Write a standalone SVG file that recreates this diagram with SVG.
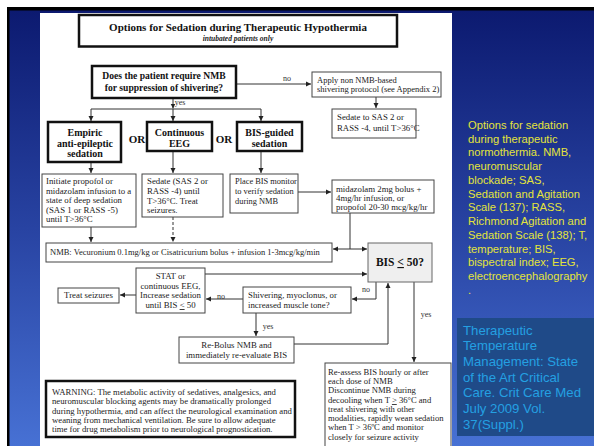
<svg xmlns="http://www.w3.org/2000/svg" width="594" height="446" viewBox="0 0 594 446">
<defs>
<linearGradient id="bg" x1="0" y1="0" x2="0" y2="1">
<stop offset="0" stop-color="#0c1a70"/>
<stop offset="0.5" stop-color="#2843a2"/>
<stop offset="1" stop-color="#4771d4"/>
</linearGradient>
<marker id="ah" markerWidth="6" markerHeight="6" refX="5" refY="3" orient="auto-start-reverse" markerUnits="userSpaceOnUse">
<path d="M0,0.5 L5,3 L0,5.5 z" fill="#222"/>
</marker>
</defs>
<style>
.b{fill:#fff;stroke:#444;stroke-width:1}
.tk{fill:#fff;stroke:#111;stroke-width:2.5}
.t{font-family:"Liberation Serif",serif;font-size:8.8px;fill:#222}
.tb{font-family:"Liberation Serif",serif;font-size:10px;font-weight:bold;fill:#111}
.c{fill:none;stroke:#333;stroke-width:1}
.ca{fill:none;stroke:#333;stroke-width:1;marker-end:url(#ah)}
.lb{font-family:"Liberation Serif",serif;font-size:8px;fill:#333}
.mid{text-anchor:middle}
.y{font-family:"Liberation Sans",Arial,sans-serif;font-size:11.2px;fill:#e4e43a}
.cy{font-family:"Liberation Sans",Arial,sans-serif;font-size:13.2px;fill:#24a0e2}
.w{font-size:8.7px}
.r{font-size:8.6px}
</style>
<rect x="0" y="0" width="594" height="446" fill="#fff"/>
<rect x="7" y="7" width="587" height="439" fill="#000"/>
<rect x="9.5" y="10.5" width="584.5" height="435.5" fill="url(#bg)"/>
<rect x="40" y="13" width="412" height="433" fill="#fff"/>

<g id="title">
<rect x="79" y="15" width="318" height="31.5" class="tk"/>
<text x="238" y="31" class="tb mid" style="font-size:11px">Options for Sedation during  Therapeutic Hypothermia</text>
<text x="238" y="41" class="t mid" style="font-style:italic;font-weight:bold;font-size:7.5px">intubated patients only</text>
</g>

<g id="connectors">
<path class="ca" d="M236,84 H311"/>
<path class="ca" d="M376,97 V108"/>
<path class="ca" d="M173,98 V108.5"/>
<path class="c" d="M91,109 H261"/>
<path class="ca" d="M91,109 V121"/>
<path class="ca" d="M173,109 V121"/>
<path class="ca" d="M261,109 V121"/>
<path class="ca" d="M91,162 V173"/>
<path class="ca" d="M173,151 V173"/>
<path class="ca" d="M261,151 V173"/>
<path class="ca" d="M298,192 H331"/>
<path class="ca" d="M91,227 V242"/>
<path class="ca" d="M173,217 V242" style="stroke-dasharray:3,2"/>
<path class="c" d="M350,213 V249"/>
<path class="ca" d="M333,249 H367" style="marker-start:url(#ah)"/>
<path class="ca" d="M205,274 H367"/>
<path class="ca" d="M376,282 V299 H352"/>
<path class="ca" d="M243,299 H206"/>
<path class="ca" d="M136,295 H120"/>
<path class="ca" d="M256,313 V336"/>
<path class="ca" d="M294,344 H388 V283"/>
<path class="ca" d="M414,282 V362"/>
<text x="287" y="81" class="lb mid">no</text>
<text x="180" y="105" class="lb mid">yes</text>
<text x="366" y="292" class="lb mid">no</text>
<text x="221" y="299" class="lb mid">no</text>
<text x="268" y="329" class="lb mid">yes</text>
<text x="426" y="317" class="lb mid">yes</text>
</g>

<g id="q-nmb">
<rect x="92" y="66" width="144" height="32" class="tk"/>
<text x="164" y="79" class="tb mid" style="font-size:9.6px">Does the patient require NMB</text>
<text x="164" y="91" class="tb mid" style="font-size:9.6px">for suppression of shivering?</text>
</g>

<g id="apply">
<rect x="312" y="72" width="129" height="25" class="b"/>
<text x="317" y="83" class="t" style="font-size:8.5px">Apply non NMB-based</text>
<text x="317" y="92" class="t" style="font-size:8.5px">shivering protocol (see Appendix 2)</text>
</g>

<g id="sedate-sas">
<rect x="332" y="109" width="84" height="29" class="b"/>
<text x="337" y="120" class="t">Sedate to SAS 2  or</text>
<text x="337" y="131" class="t">RASS -4, until T&gt;36°C</text>
</g>

<g id="empiric">
<rect x="48" y="122" width="73" height="40" class="tk"/>
<text x="85" y="135.5" class="tb mid">Empiric</text>
<text x="85" y="146.5" class="tb mid">anti-epileptic</text>
<text x="85" y="157" class="tb mid">sedation</text>
</g>
<text x="137" y="143" class="tb mid" style="font-size:11px">OR</text>
<g id="cont-eeg">
<rect x="147" y="122" width="65" height="29" class="tk"/>
<text x="179.5" y="135.5" class="tb mid">Continuous</text>
<text x="179.5" y="146.5" class="tb mid">EEG</text>
</g>
<text x="224" y="143" class="tb mid" style="font-size:11px">OR</text>
<g id="bis-guided">
<rect x="237" y="122" width="65" height="29" class="tk"/>
<text x="269.5" y="135.5" class="tb mid">BIS-guided</text>
<text x="269.5" y="146.5" class="tb mid">sedation</text>
</g>

<g id="initiate">
<rect x="42" y="174" width="94" height="53" class="b"/>
<text x="46" y="184" class="t">Initiate propofol or</text>
<text x="46" y="194" class="t">midazolam infusion to a</text>
<text x="46" y="203" class="t">state of deep sedation</text>
<text x="46" y="213" class="t">(SAS 1 or RASS -5)</text>
<text x="46" y="222" class="t">until T&gt;36°C</text>
</g>

<g id="sedate-eeg">
<rect x="142" y="174" width="81" height="43" class="b"/>
<text x="147" y="184" class="t">Sedate (SAS 2 or</text>
<text x="147" y="194" class="t">RASS -4) until</text>
<text x="147" y="204" class="t">T&gt;36°C.  Treat</text>
<text x="147" y="213" class="t">seizures.</text>
</g>

<g id="place-bis">
<rect x="230" y="174" width="68" height="39" class="b"/>
<text x="235" y="184" class="t" style="font-size:8.4px">Place BIS monitor</text>
<text x="235" y="194" class="t" style="font-size:8.4px">to verify sedation</text>
<text x="235" y="204" class="t" style="font-size:8.4px">during NMB</text>
</g>

<g id="midazolam">
<rect x="332" y="180" width="102" height="33" class="b"/>
<text x="336" y="192" class="t">midazolam 2mg bolus +</text>
<text x="336" y="201" class="t">4mg/hr infusion, or</text>
<text x="336" y="210" class="t">propofol 20-30 mcg/kg/hr</text>
</g>

<g id="nmb">
<rect x="46" y="243" width="286" height="19" class="b"/>
<text x="50" y="255" class="t" style="font-size:8.5px">NMB: Vecuronium 0.1mg/kg or Cisatricurium bolus + infusion 1-3mcg/kg/min</text>
</g>

<g id="bis50">
<rect x="368" y="243" width="64" height="39" fill="#efefef" stroke="#666" stroke-width="1"/>
<text x="400" y="266" class="tb mid" style="font-size:11.5px">BIS <tspan text-decoration="underline">&lt;</tspan> 50?</text>
</g>

<g id="stat">
<rect x="136" y="268" width="69" height="45" class="b"/>
<text x="170.5" y="279" class="t mid">STAT or</text>
<text x="170.5" y="289" class="t mid">continuous EEG,</text>
<text x="170.5" y="298" class="t mid">Increase sedation</text>
<text x="170.5" y="308" class="t mid">until BIS <tspan text-decoration="underline">&lt;</tspan> 50</text>
</g>

<g id="treat">
<rect x="58" y="288" width="61" height="15" class="b"/>
<text x="88.5" y="298" class="t mid">Treat seizures</text>
</g>

<g id="shivering">
<rect x="243" y="287" width="108" height="26" class="b"/>
<text x="248" y="298" class="t">Shivering, myoclonus, or</text>
<text x="248" y="308" class="t">increased muscle tone?</text>
</g>

<g id="rebolus">
<rect x="179" y="337" width="115" height="26" class="b"/>
<text x="236.5" y="348" class="t mid">Re-Bolus NMB and</text>
<text x="236.5" y="358" class="t mid">immediately re-evaluate BIS</text>
</g>

<g id="reassess">
<rect x="325" y="363" width="126" height="90" class="b"/>
<text x="328" y="375" class="t r">Re-assess BIS hourly or after</text>
<text x="328" y="384" class="t r">each dose of NMB</text>
<text x="328" y="393" class="t r">Discontinue NMB during</text>
<text x="328" y="403" class="t r">decooling when T <tspan text-decoration="underline">&gt;</tspan> 36°C and</text>
<text x="328" y="412" class="t r">treat shivering with other</text>
<text x="328" y="421" class="t r">modalities, rapidly wean sedation</text>
<text x="328" y="430" class="t r">when T &gt; 36ºC and monitor</text>
<text x="328" y="440" class="t r">closely for seizure activity</text>
</g>

<g id="warning">
<rect x="46" y="381" width="249" height="56" class="tk"/>
<text x="52" y="395" class="t w">WARNING:  The metabolic activity of sedatives, analgesics, and</text>
<text x="52" y="404" class="t w">neuromuscular blocking agents may be dramatically prolonged</text>
<text x="52" y="414" class="t w">during hypothermia, and can affect the neurological examination and</text>
<text x="52" y="423" class="t w">weaning from mechanical ventilation.  Be sure to allow adequate</text>
<text x="52" y="432" class="t w">time for drug metabolism prior to neurological prognostication.</text>
</g>

<g id="caption">
<text class="y">
<tspan x="468" y="129">Options for sedation</tspan>
<tspan x="468" y="143">during therapeutic</tspan>
<tspan x="468" y="156">normothermia. NMB,</tspan>
<tspan x="468" y="170">neuromuscular</tspan>
<tspan x="468" y="184">blockade; SAS,</tspan>
<tspan x="468" y="198">Sedation and Agitation</tspan>
<tspan x="468" y="211">Scale (137); RASS,</tspan>
<tspan x="468" y="225">Richmond Agitation and</tspan>
<tspan x="468" y="239">Sedation Scale (138); T,</tspan>
<tspan x="468" y="253">temperature; BIS,</tspan>
<tspan x="468" y="266">bispectral index;  EEG,</tspan>
<tspan x="468" y="280">electroencephalography</tspan>
<tspan x="468" y="294">.</tspan>
</text>
</g>

<g id="reference">
<rect x="457" y="318" width="137" height="118" fill="#1f4a88"/>
<text class="cy">
<tspan x="463" y="335">Therapeutic</tspan>
<tspan x="463" y="350">Temperature</tspan>
<tspan x="463" y="366">Management: State</tspan>
<tspan x="463" y="382">of the Art Critical</tspan>
<tspan x="463" y="397">Care.  Crit Care Med</tspan>
<tspan x="463" y="413">July 2009 Vol.</tspan>
<tspan x="463" y="429">37(Suppl.)</tspan>
</text>
</g>
</svg>
